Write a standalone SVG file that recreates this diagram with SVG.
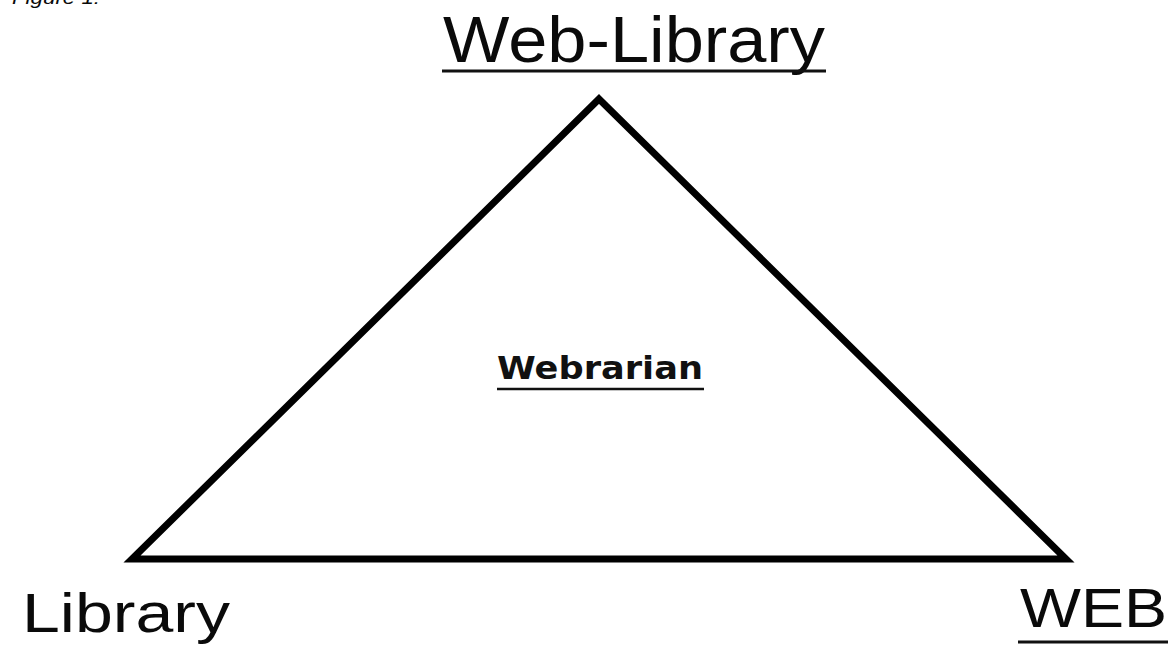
<svg xmlns="http://www.w3.org/2000/svg" width="1168" height="645" viewBox="0 0 1168 645">
<style>
.lbl{font-family:"Liberation Sans",Arial,sans-serif;fill:#0a0a0a}
.ul{stroke:#111;fill:none}
</style>
<rect width="1168" height="645" fill="#fff"/>
<text x="12" y="4" class="lbl" font-style="italic" font-size="19" textLength="88" lengthAdjust="spacingAndGlyphs">Figure 1:</text>
<g id="connectors">
<polygon points="599,99 1066,559 132,559" fill="none" stroke="#000" stroke-width="7" stroke-linejoin="miter" stroke-miterlimit="10"/>
</g>
<g id="node-web-library">
<text x="443" y="62" class="lbl" font-size="64" textLength="382" lengthAdjust="spacingAndGlyphs">Web-Library</text>
<line class="ul" x1="442" y1="71" x2="826" y2="71" stroke-width="3"/>
</g>
<g id="node-library">
<text x="22" y="632" class="lbl" font-size="56" textLength="208" lengthAdjust="spacingAndGlyphs">Library</text>
</g>
<g id="node-web">
<text x="1020" y="627" class="lbl" font-size="55" textLength="147" lengthAdjust="spacingAndGlyphs">WEB</text>
<line class="ul" x1="1018" y1="642" x2="1168" y2="642" stroke-width="3"/>
</g>
<g id="node-webrarian">
<text x="497" y="379" font-family="'DejaVu Sans',Verdana,sans-serif" font-weight="bold" font-size="32" fill="#111" textLength="206" lengthAdjust="spacingAndGlyphs">Webrarian</text>
<line class="ul" x1="497" y1="389" x2="704" y2="389" stroke-width="2.5"/>
</g>
</svg>
